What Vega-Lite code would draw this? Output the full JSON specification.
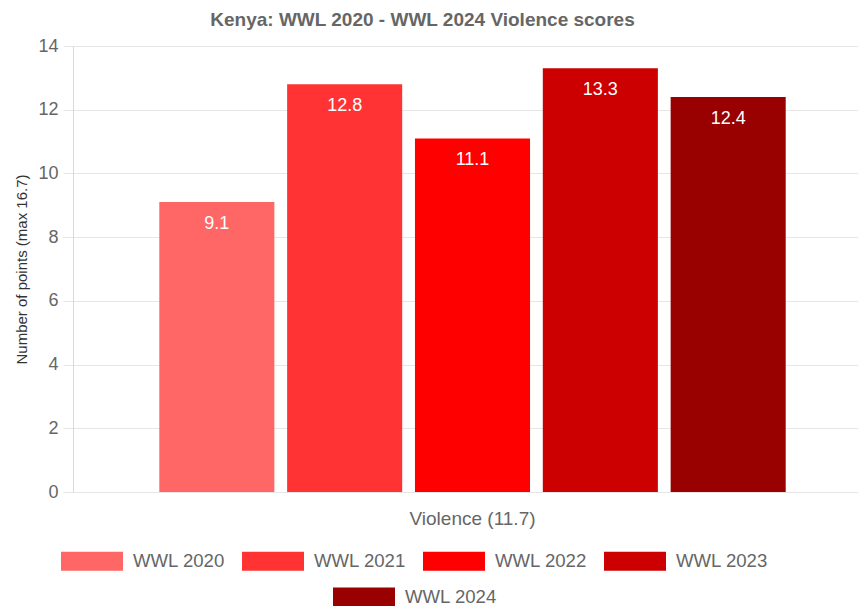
{
  "$schema": "https://vega.github.io/schema/vega-lite/v6.json",
  "width": 799,
  "height": 446,
  "autosize": {"type": "none"},
  "padding": {"left": 73, "top": 46, "right": 0, "bottom": 114},
  "background": "white",
  "title": {
    "text": "Kenya: WWL 2020 - WWL 2024 Violence scores",
    "anchor": "middle",
    "frame": "group",
    "dx": -50,
    "fontSize": 19,
    "fontWeight": "bold",
    "color": "#666666",
    "font": "Liberation Sans",
    "baseline": "alphabetic",
    "offset": -8
  },
  "config": {
    "view": {"stroke": null},
    "font": "Liberation Sans"
  },
  "data": {
    "values": [
      {"category": "Violence (11.7)", "series": "WWL 2020", "value": 9.1},
      {"category": "Violence (11.7)", "series": "WWL 2021", "value": 12.8},
      {"category": "Violence (11.7)", "series": "WWL 2022", "value": 11.1},
      {"category": "Violence (11.7)", "series": "WWL 2023", "value": 13.3},
      {"category": "Violence (11.7)", "series": "WWL 2024", "value": 12.4}
    ]
  },
  "encoding": {
    "x": {
      "field": "category",
      "type": "nominal",
      "scale": {"paddingInner": 0, "paddingOuter": 0.125},
      "axis": {
        "title": null,
        "labelAngle": 0,
        "domain": false,
        "ticks": false,
        "labelFontSize": 19,
        "labelColor": "#666666",
        "labelPadding": 17
      }
    },
    "xOffset": {
      "field": "series",
      "type": "nominal",
      "scale": {
        "domain": ["WWL 2020", "WWL 2021", "WWL 2022", "WWL 2023", "WWL 2024"],
        "paddingInner": 0.1,
        "paddingOuter": 0.05
      }
    },
    "y": {
      "field": "value",
      "type": "quantitative",
      "scale": {"domain": [0, 14]},
      "axis": {
        "values": [0, 2, 4, 6, 8, 10, 12, 14],
        "grid": true,
        "gridColor": "#e6e6e6",
        "domainColor": "#d9d9d9",
        "tickColor": "#e6e6e6",
        "tickSize": 10,
        "labelFontSize": 18,
        "labelColor": "#666666",
        "labelPadding": 5,
        "title": "Number of points (max 16.7)",
        "titleFontSize": 15,
        "titleFontWeight": "normal",
        "titleColor": "#333333",
        "titlePadding": 8
      }
    }
  },
  "layer": [
    {
      "transform": [{"filter": "datum.series != 'WWL 2024'"}],
      "mark": {"type": "bar"},
      "encoding": {
        "color": {
          "field": "series",
          "type": "nominal",
          "scale": {
            "domain": ["WWL 2020", "WWL 2021", "WWL 2022", "WWL 2023"],
            "range": ["#ff6666", "#ff3333", "#ff0000", "#cc0000"]
          },
          "legend": {
            "orient": "none",
            "legendX": -12,
            "legendY": 484,
            "direction": "horizontal",
            "title": null,
            "symbolType": "M-1,-0.306H1V0.306H-1Z",
            "symbolSize": 3844,
            "symbolStrokeWidth": 0,
            "symbolOpacity": 1,
            "labelFontSize": 18.6,
            "labelColor": "#666666",
            "labelOffset": 10,
            "columnPadding": 17
          }
        }
      }
    },
    {
      "transform": [{"filter": "datum.series == 'WWL 2024'"}],
      "mark": {"type": "bar"},
      "encoding": {
        "fill": {
          "field": "series",
          "type": "nominal",
          "scale": {"domain": ["WWL 2024"], "range": ["#990000"]},
          "legend": {
            "orient": "none",
            "legendX": 260,
            "legendY": 520,
            "direction": "horizontal",
            "title": null,
            "symbolType": "M-1,-0.306H1V0.306H-1Z",
            "symbolSize": 3844,
            "symbolStrokeWidth": 0,
            "symbolOpacity": 1,
            "labelFontSize": 18.6,
            "labelColor": "#666666",
            "labelOffset": 10
          }
        }
      }
    },
    {
      "mark": {"type": "text", "color": "white", "dy": 22, "fontSize": 18, "baseline": "middle"},
      "encoding": {
        "text": {"field": "value", "type": "quantitative", "format": ".1f"}
      }
    }
  ]
}
